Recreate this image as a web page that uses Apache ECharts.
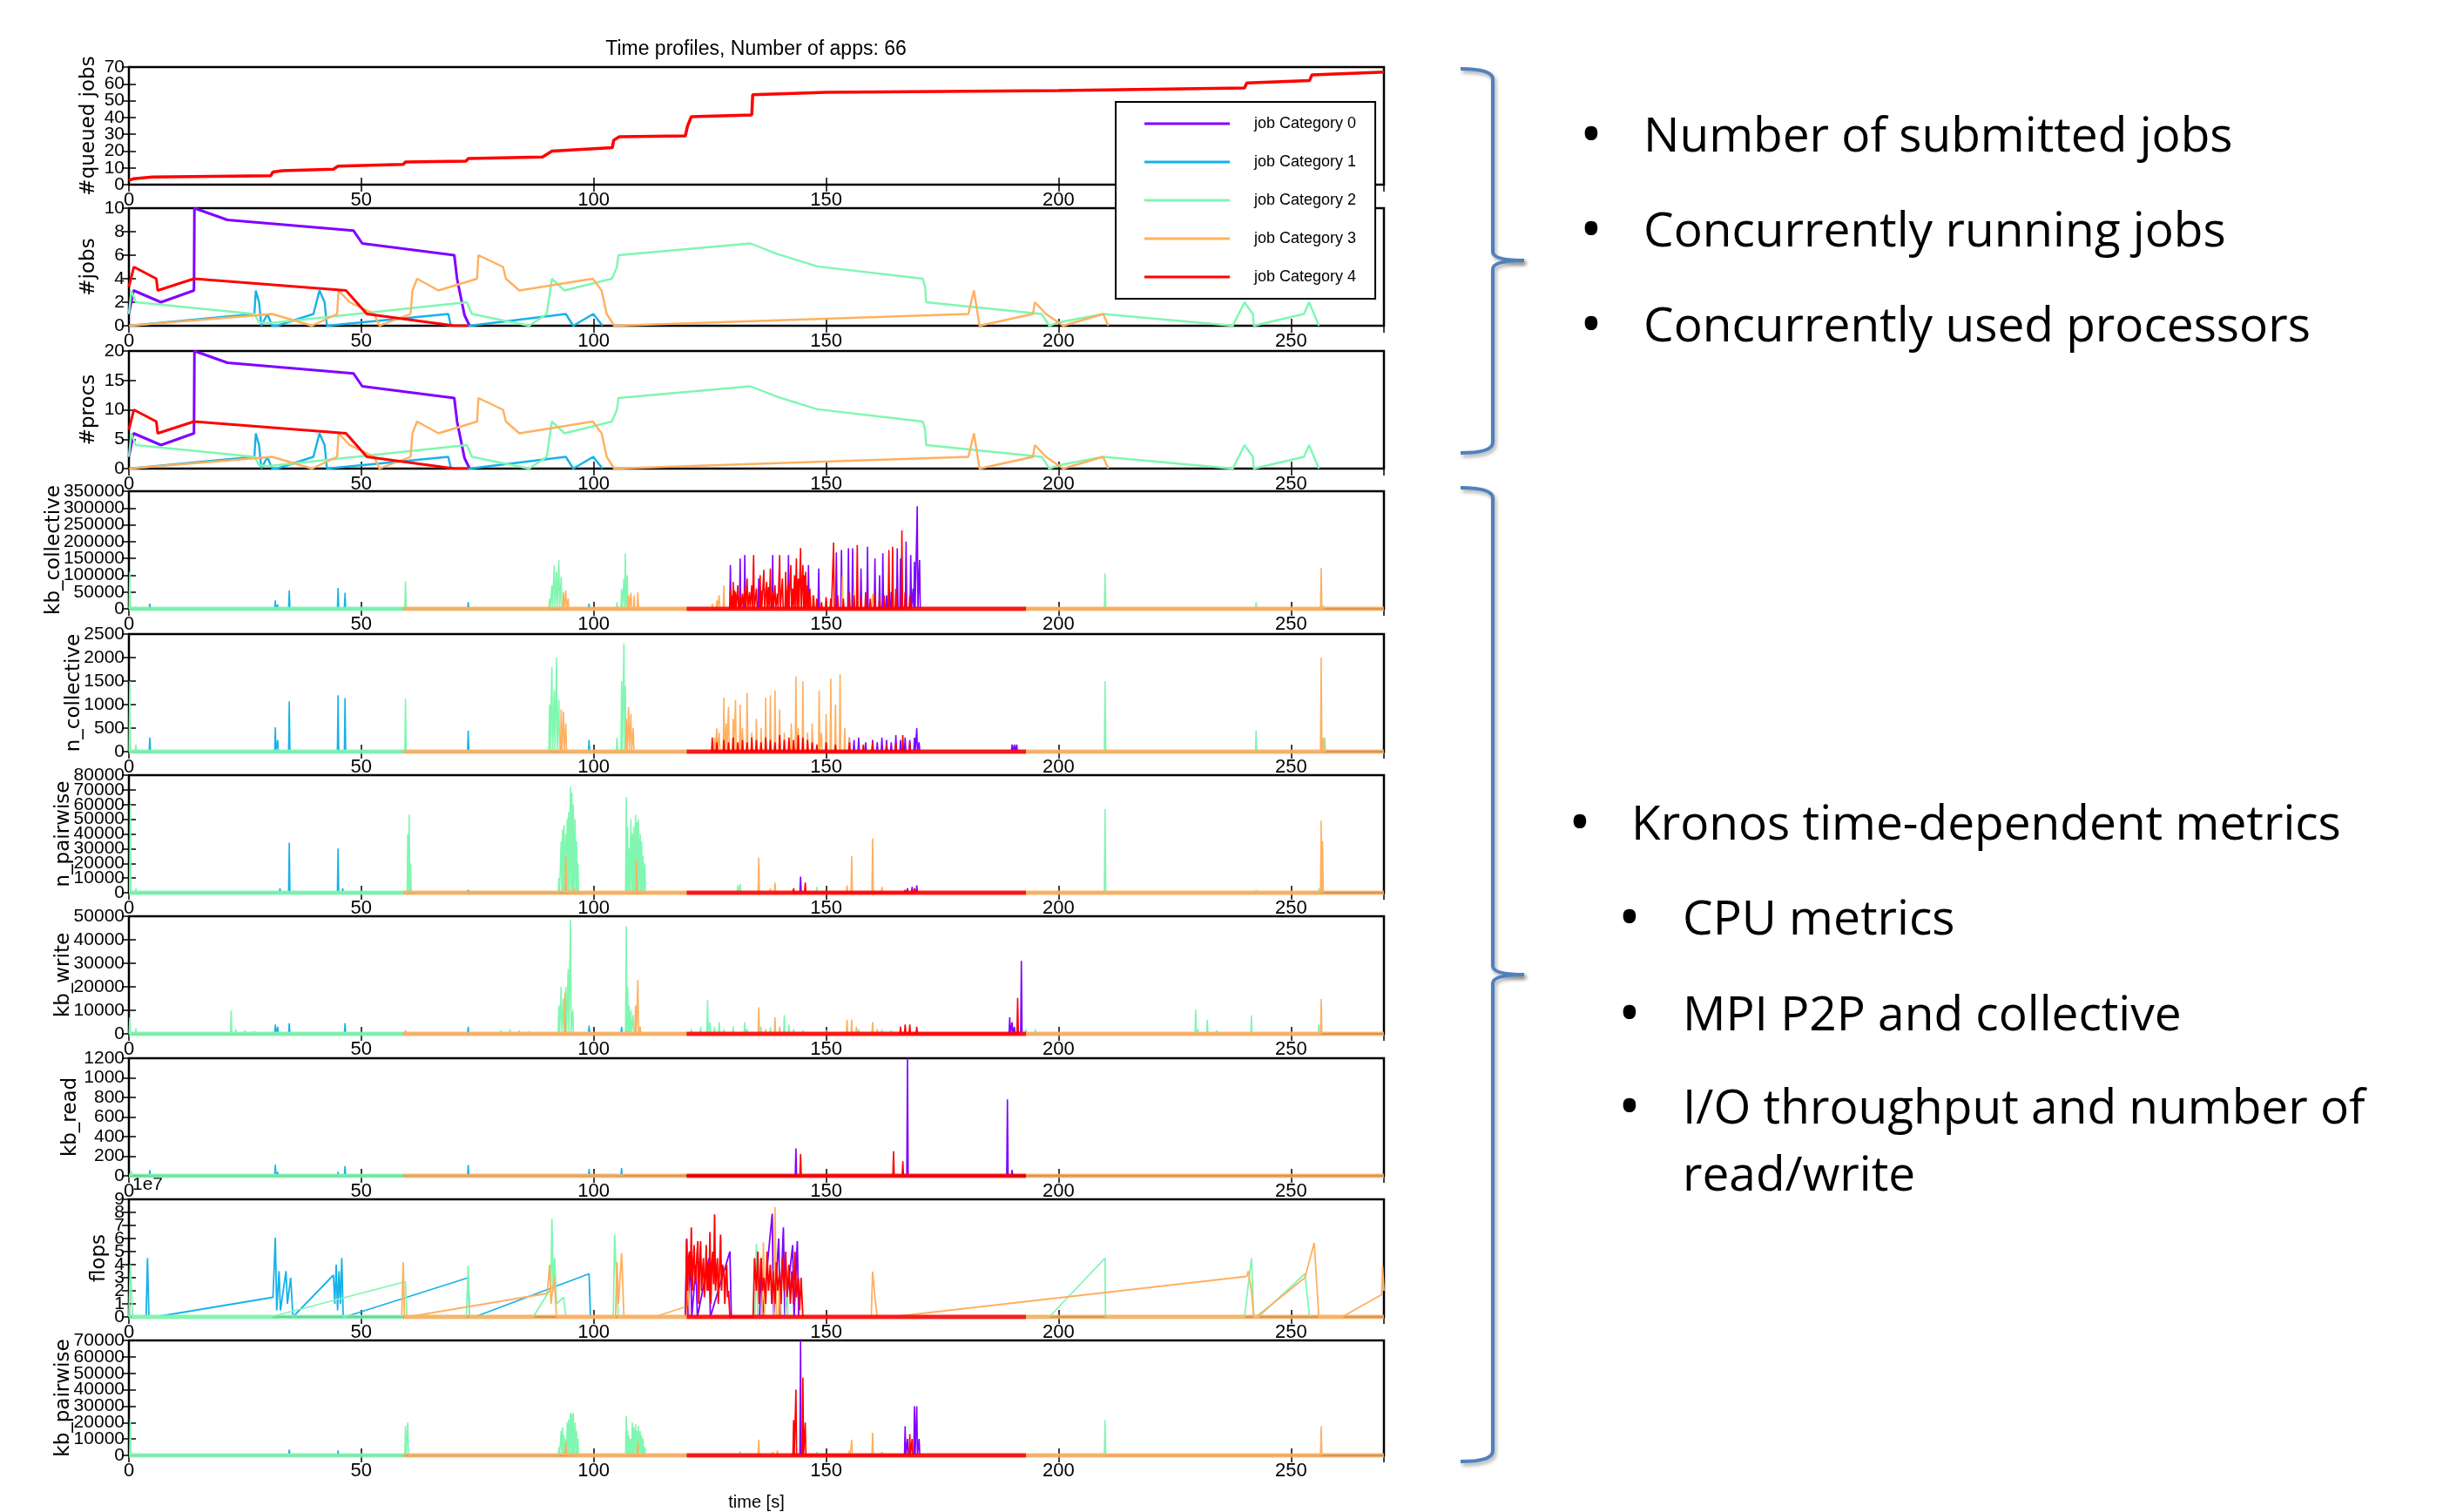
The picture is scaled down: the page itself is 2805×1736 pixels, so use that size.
<!DOCTYPE html>
<html>
<head>
<meta charset="utf-8">
<script src="https://cdn.jsdelivr.net/npm/echarts@6/dist/echarts.min.js"></script>
<style>
  html, body { margin: 0; padding: 0; background: #fff; }
  #main { width: 2805px; height: 1736px; }
</style>
</head>
<body>
<div id="main"></div>
<script>
// ---- data ----
const categories = ['job Category 0', 'job Category 1', 'job Category 2', 'job Category 3', 'job Category 4'];
const catColors = ['#8000ff', '#16b2ea', '#7ff7b0', '#ffb060', '#ff0000'];

const panelNames = ['#queued jobs', '#jobs', '#procs', 'kb_collective', 'n_collective', 'n_pairwise', 'kb_write', 'kb_read', 'flops', 'kb_pairwise'];
const panelMax = [70, 10, 20, 350000, 2500, 80000, 50000, 1200, 9, 70000];
const panelStep = [10, 2, 5, 50000, 500, 10000, 10000, 200, 1, 10000];
const xMax = 270, xStep = 50;

// time [s], number of queued jobs
const queuedJobs = [[0,2.5],[1,3.5],[5,4.5],[30.5,5.3],[31,7.5],[33,8.3],[44,9.2],[45,11],[59,12],[59.5,13.5],[72.5,14],[73,15.5],[89,16.5],[91,20],[104,22],[104.3,26.5],[105.5,28.5],[119.7,29],[120.2,35],[121,40.5],[134,41.5],[134.2,53.5],[150,55],[200,56],[240,57.5],[240.5,60.5],[254,62],[254.5,65.3],[270,67]];

// running jobs per category
const jobs = [
  [[0,1],[1,3],[6.9,2],[14,3],[14.1,10],[21.2,9],[48.3,8.1],[50.2,7],[70,6],[70.6,4],[72.2,0.9],[73.3,0]],
  [[0,0],[27,1],[27.3,3],[28,2],[28.5,0],[29.8,1],[30.8,0],[31.9,0],[39.7,1],[41,3],[42.1,2],[42.6,0],[68.7,1],[69.3,0],[73.3,0],[94,1],[95.6,0],[99.9,1],[101.9,0]],
  [[0,1],[0.5,3],[1.5,2],[27,1],[28,0.3],[29.8,0.2],[72.7,2],[73.8,1],[86.1,0],[89.9,1],[91,4],[93.7,3],[103.9,4],[105,5],[105.3,6],[133.7,7],[139.5,6.1],[148.1,5.05],[170.8,4],[171.3,3.3],[171.5,2],[196.4,1],[198,0],[200.2,0.3],[209.6,1],[237.5,0],[240,2],[241.8,1],[242,0],[252.8,1],[253.9,2],[256,0]],
  [[0,0],[30.8,1],[39.4,0],[44.8,1],[45.1,3],[47.5,2],[52.8,1],[53.9,0],[60.6,1],[61,3],[62,4],[66.6,3],[74.9,4],[75.2,6],[80.5,5],[81.1,4],[84,3],[99.8,4],[101.7,3],[102.8,1],[104.4,0],[180.6,1],[181.8,3],[183,0],[194.5,1],[194.9,2],[197.3,1],[201,0],[209.6,1],[210.7,0]],
  [[0,3.3],[1.07,5],[5.9,4],[6.2,3],[14,4],[46.7,3],[51.2,1],[70,0],[73,0]]
];

// used processors per category
const procs = [
  [[0,2],[1,6],[6.9,4],[14,6],[14.1,20],[21.2,18],[48.3,16.2],[50.2,14],[70,12],[70.6,8],[72.2,1.8],[73.3,0]],
  [[0,0],[27,2],[27.3,6],[28,4],[28.5,0],[29.8,2],[30.8,0],[31.9,0],[39.7,2],[41,6],[42.1,4],[42.6,0],[68.7,2],[69.3,0],[73.3,0],[94,2],[95.6,0],[99.9,2],[101.9,0]],
  [[0,2],[0.5,6],[1.5,4],[27,2],[28,0.6],[29.8,0.4],[72.7,4],[73.8,2],[86.1,0],[89.9,2],[91,8],[93.7,6],[103.9,8],[105,10],[105.3,12],[133.7,14],[139.5,12.2],[148.1,10.1],[170.8,8],[171.3,6.6],[171.5,4],[196.4,2],[198,0],[200.2,0.6],[209.6,2],[237.5,0],[240,4],[241.8,2],[242,0],[252.8,2],[253.9,4],[256,0]],
  [[0,0],[30.8,2],[39.4,0],[44.8,2],[45.1,6],[47.5,4],[52.8,2],[53.9,0],[60.6,2],[61,6],[62,8],[66.6,6],[74.9,8],[75.2,12],[80.5,10],[81.1,8],[84,6],[99.8,8],[101.7,6],[102.8,2],[104.4,0],[180.6,2],[181.8,6],[183,0],[194.5,2],[194.9,4],[197.3,2],[201,0],[209.6,2],[210.7,0]],
  [[0,6.6],[1.07,10],[5.9,8],[6.2,6],[14,8],[46.7,6],[51.2,2],[70,0],[73,0]]
];

// metric bursts: [time, peak value] per category
const kbCollective = [
  [[129.4,130000],[131.5,150000],[132.5,160000],[135.5,90000],[138.5,160000],[141.9,160000],[146.2,130000],[148.4,120000],[152.2,168000],[153.3,175000],[154.8,180000],[155.7,180000],[157.5,120000],[158.9,185000],[160.5,150000],[161.5,100000],[162.2,165000],[163,40000],[164,50000],[165.3,180000],[166,150000],[167.2,200000],[168.2,160000],[168.7,60000],[169,140000],[169.6,305000],[170.1,145000]],
  [[4.5,15000],[31.5,25000],[32,12000],[34.5,55000],[45,62000],[46.5,48000],[73,20000],[99,15000]],
  [[0.2,110000],[1.5,8000],[59.5,82000],[90.5,30000],[91,70000],[91.5,130000],[92,110000],[92.5,145000],[93,95000],[105,20000],[106,60000],[106.5,90000],[106.8,165000],[107.2,100000],[210,105000],[242.5,20000],[257,10000]],
  [[93.5,50000],[94,55000],[94.5,30000],[107.5,40000],[108,48000],[108.7,40000],[109.5,50000],[125.5,15000],[126.5,25000],[127,40000],[128,70000],[133,40000],[137,60000],[144,50000],[147,40000],[150,30000],[153.5,100000],[156,60000],[160,45000],[256.5,122000]],
  [[129.5,60000],[129.8,40000],[130,80000],[130.3,55000],[130.5,50000],[131,70000],[131.5,40000],[132,45000],[132.5,60000],[133,90000],[133.5,50000],[134,70000],[134.4,160000],[135,60000],[135.8,100000],[136,55000],[136.6,116000],[137.2,80000],[137.6,65000],[138,120000],[138.5,50000],[139,70000],[139.5,45000],[140,160000],[140.6,90000],[141.3,110000],[141.8,75000],[142.4,130000],[142.8,60000],[143.2,100000],[143.6,150000],[144,90000],[144.5,181000],[145,130000],[145.3,100000],[145.6,110000],[146,70000],[146.5,60000],[147.3,40000],[148,30000],[149,20000],[150,35000],[151,30000],[151.6,197000],[152.5,40000],[153.7,30000],[155,50000],[156,40000],[156.7,190000],[157.5,35000],[158.5,50000],[159.5,30000],[160.5,45000],[161.5,35000],[162.5,40000],[163.5,175000],[164.3,185000],[165,60000],[166.3,233000],[167,50000],[168,40000]]
];

const nCollective = [
  [[155,300],[156,250],[157,300],[158.5,200],[160,250],[161,200],[162,300],[163,250],[164,200],[165,350],[166,250],[167,300],[168,250],[169,300],[169.5,500],[170,200],[190,150],[190.5,150],[191,150]],
  [[4.5,300],[31.5,520],[32,250],[34.5,1070],[45,1200],[46.5,1140],[73,450],[99,250]],
  [[0.2,1500],[1.5,150],[59.5,1130],[90.5,1000],[91,1800],[91.5,1300],[92,2000],[92.5,1100],[105,300],[106,1500],[106.5,2300],[106.8,1400],[210,1500],[242.5,450],[257.3,300]],
  [[93,900],[93.5,850],[94,600],[107,700],[107.5,950],[108,800],[108.5,500],[126,300],[126.5,500],[127,400],[128,1150],[128.5,600],[129,950],[130,700],[130.5,1100],[131.5,1000],[132,500],[133,1250],[134,400],[135,700],[136,500],[137,1150],[138,1200],[139,1300],[140,900],[141,400],[142.5,600],[143.5,1600],[144,500],[145,1500],[146,400],[147,600],[148.5,1300],[149,400],[150,800],[151,1550],[152,1000],[153,1650],[154,500],[155,300],[256.5,2000],[257,300]],
  [[125.5,300],[126.5,200],[128,250],[129,200],[130,300],[131,200],[132,250],[133,200],[134,300],[135,250],[136,200],[137,300],[138,250],[139,200],[140,350],[141,250],[142,300],[143,250],[144,350],[145,300],[146,250],[147,200],[148,150],[150,200],[152,150],[155,200],[158,150],[160,200],[163,150],[165,200],[166.5,350],[168,200]]
];

const nPairwise = [
  [[144.5,11000],[167.5,3000],[168.5,4000],[169.5,5000]],
  [[32.5,3000],[34.5,34000],[45,30000],[46,3000],[73,2000]],
  [[0.3,60000],[1.5,3000],[60,40000],[60.3,53000],[60.6,20000],[92.5,10000],[93,35000],[93.3,43000],[93.6,46000],[94,40000],[94.3,50000],[94.6,55000],[95,72000],[95.3,68000],[95.6,60000],[96,50000],[96.3,35000],[96.6,20000],[107,65000],[107.3,45000],[107.6,30000],[108,50000],[108.3,40000],[108.6,45000],[109,53000],[109.3,48000],[109.6,50000],[110,40000],[110.3,35000],[110.6,25000],[111,20000],[131,5000],[131.5,6000],[148,4000],[210,57000],[242.5,2000],[256,3000]],
  [[94,25000],[95.8,3000],[109.2,22000],[135.5,24000],[138,3000],[139,7000],[154.5,5000],[155.5,25000],[160,37000],[162,4000],[256.5,49000],[256.8,35000]],
  [[143,3000],[145.5,7000],[167,2000],[169,3000]]
];

const kbWrite = [
  [[189.5,7000],[190,5000],[190.5,3000],[192,31000]],
  [[31.5,4000],[32,3000],[34.5,4500],[46.5,4500],[73,3000],[99,3500],[106,3000]],
  [[0.2,7000],[1.5,2500],[22,10000],[23,2000],[25,1500],[27,1200],[80,1500],[82,2000],[84,1500],[86,1000],[92.5,12000],[93,20000],[93.5,15000],[94,20000],[94.5,27600],[95,48600],[95.5,10000],[107,45800],[107.3,20000],[107.6,12000],[108,10000],[108.5,8000],[121,2000],[123,3000],[124.5,14400],[125,5000],[126,3000],[127,5000],[128,2000],[130,3000],[132.5,5000],[133,2000],[136,3000],[138,3000],[141,8000],[142,4000],[143,2000],[145,1500],[150,1500],[157,2000],[160,1500],[162,2000],[164,1500],[193,2000],[195,2000],[229.5,10300],[230,2000],[232,6000],[234,1500],[241.5,7900],[256,4000]],
  [[59.5,1500],[93.8,17500],[109,12000],[109.5,23000],[110,3000],[135.5,11300],[137,2000],[139,7000],[140,3000],[154.5,6000],[155.5,6000],[156.5,3000],[160,5000],[161,2000],[256.5,14800]],
  [[166,3000],[167,4000],[168,4000],[169.5,3000],[191.2,15300]]
];

const kbRead = [
  [[143.5,280],[167.5,1200],[189,780],[190,60]],
  [[4.5,60],[31.5,112],[32,40],[45,40],[46.5,100],[73,110],[99,70],[106,80]],
  [[0.5,50]],
  [],
  [[144.5,222],[164.5,251],[166.5,148]]
];

// flops in units of 1e7
const flopsE7 = [
  [[119.7,0],[120,6],[120.3,0],[120.8,5],[121.1,0],[122,4],[122.3,0],[124.8,4.5],[125.1,0],[129.3,5],[129.6,0],[135.7,0],[136,4.5],[136.3,0],[138.4,7.9],[138.7,0],[139.8,6],[140.1,0],[140.8,6.85],[141.1,0],[142.8,5.5],[143.1,0],[143.8,5.8],[144.1,0]],
  [[3.7,0],[4,4.5],[4.3,0],[5.7,0],[31,1.5],[31.5,6.07],[31.8,0.5],[32.3,3.5],[32.6,0.5],[33.8,3.5],[34.1,1],[34.8,3],[35.3,0],[44,3.2],[44.3,1],[44.6,4],[44.9,0.5],[45.2,3.5],[45.5,1],[45.8,4.5],[46.1,0],[46.5,0],[73,3],[73.3,0],[74.4,0],[99,3.3],[99.3,0],[100,0]],
  [[0,0],[0.3,4],[0.8,0],[30.5,0],[59.5,2.7],[59.8,0],[72.6,0],[73,3.9],[73.3,0],[87,0],[90.8,2.2],[91,7.5],[91.3,2],[91.6,4.5],[92,1],[93.5,1.5],[94,0],[104.2,0],[104.5,6.3],[105,2],[105.3,0],[134.7,0],[135,5.6],[135.3,0],[141.2,0],[141.5,3],[141.8,0],[198,0],[210,4.5],[210.1,0],[240,0],[241.5,4.5],[242,0],[243,0],[253,3.3],[254,0]],
  [[58.7,0],[59,4.2],[59.3,0],[60,0],[90,1.8],[90.5,4],[90.8,1],[91.5,3],[92,0],[104.7,0],[105,4.2],[105.3,1],[106,4.9],[106.5,0],[113,0],[120,0.8],[120.3,3],[120.6,0],[136.2,0],[136.5,5.7],[136.8,0],[138.7,0],[139,8.4],[139.3,0],[139.7,0],[140,3],[140.3,0],[159.7,0],[160,3.46],[160.5,1.5],[161,0],[164,0],[240.5,3.1],[240.8,3.5],[241.5,2],[242,0],[242.5,0],[253,3],[255,5.67],[256,0],[261,0],[269.5,1.7],[269.7,3.9],[270,2]],
  [[119.8,0],[120,5.9],[120.2,2],[120.4,4.5],[120.6,5],[120.8,3],[121,6.85],[121.2,2],[121.4,4],[121.6,5.5],[121.8,2.5],[122,3],[122.2,4.8],[122.4,5.8],[122.6,1],[122.8,4],[123,5.8],[123.2,2],[123.4,3.5],[123.6,4.5],[123.8,1.5],[124,3],[124.2,5.5],[124.4,2],[124.6,4],[124.8,2],[125,6.5],[125.2,1],[125.4,4],[125.6,5],[125.8,2.5],[126,7.85],[126.2,2],[126.4,3.5],[126.6,4.5],[126.8,1],[127,3],[127.3,6.3],[127.5,2],[127.7,4],[128,3.5],[128.2,1],[128.4,3],[128.6,4],[128.8,1.5],[129,2],[129.3,0],[134.3,0],[134.6,4.5],[135,2],[135.3,5],[135.6,1],[136,4.5],[136.3,2],[136.6,3],[137,1],[137.3,5],[137.6,2],[138,4],[138.3,1],[138.6,3.5],[139,1],[139.3,4.2],[139.6,2],[140,3.5],[140.3,1],[140.6,4.5],[141,2],[141.3,5],[141.6,1.5],[142,4],[142.3,1],[142.6,3.5],[143,1],[143.3,5],[143.6,1.5],[144,3],[144.3,0.5],[144.6,3],[145,0]]
];

const kbPairwise = [
  [[144.5,70000],[167,17700],[167.5,10000],[169,30000],[169.5,30000],[170,10000]],
  [[34.5,3500],[45,3000]],
  [[0.3,22000],[59.5,18000],[60,20000],[92.5,5000],[93,15000],[93.3,17000],[93.6,12000],[94,10000],[94.3,20000],[94.6,22000],[95,26000],[95.3,25000],[95.6,26000],[96,20000],[96.3,15000],[96.6,10000],[107,24000],[107.3,15000],[107.6,12000],[108,10000],[108.3,20000],[108.6,17000],[109,19000],[109.3,15000],[109.6,18000],[110,15000],[110.3,12000],[110.6,10000],[111,5000],[131.5,2500],[148,2000],[210,21500]],
  [[94,8000],[109.5,8000],[135.5,9500],[138.5,2000],[139.5,3000],[155,3000],[155.5,9500],[160,13800],[162,2000],[256.5,17700]],
  [[143,21500],[143.5,40000],[145,47300],[145.5,20000],[168,13000],[168.5,10000]]
];

// idle stretches at zero: [category, from, to]
const baseSegs = [[2,0,59],[3,59,120],[4,120,193],[3,193,270]];

// ---- layout ----
const NARROW = "'Liberation Sans Narrow', 'Liberation Sans', Arial, sans-serif";
const DEJAVU = "'DejaVu Sans', sans-serif";
const SLIDE = "'Open Sans', 'Noto Sans', sans-serif";
const plotLeft = 148, plotWidth = 1441, panelH = 135;
const panelTop = [77, 239, 403, 564, 728, 890, 1052, 1215, 1377, 1539];
const nameGaps = [34, 34, 34, 74, 51, 63, 63, 55, 22, 63];
const Y_PER_PANEL = 3;

// turn each burst into a thin spike from zero
function spikes(list) {
  const w = 0.15, out = [];
  list.slice().sort((a, b) => a[0] - b[0]).forEach(([t, h]) => {
    out.push([t - w, 0], [t, h], [t + w, 0]);
  });
  return out;
}

const tickStyle = { inside: true, length: 8, lineStyle: { color: '#000', width: 1.5 } };
const grids = [], xAxes = [], yAxes = [], series = [];
panelNames.forEach((nm, i) => {
  grids.push({ left: plotLeft, width: plotWidth, top: panelTop[i], height: panelH,
    show: true, borderColor: '#000', borderWidth: 2.5, backgroundColor: 'transparent' });
  const last = i === panelNames.length - 1;
  xAxes.push({
    gridIndex: i, type: 'value', min: 0, max: xMax, interval: xStep,
    axisLine: { show: false }, splitLine: { show: false }, axisTick: tickStyle,
    axisLabel: { fontSize: 22, color: '#000', fontFamily: NARROW, margin: 7,
      showMinLabel: true, showMaxLabel: false, hideOverlap: false },
    name: last ? 'time [s]' : '', nameLocation: 'middle', nameGap: 44, nameMoveOverlap: false,
    nameTextStyle: { fontSize: 20, color: '#000', fontFamily: NARROW }
  });
  xAxes.push({
    gridIndex: i, type: 'value', position: 'top', min: 0, max: xMax, interval: xStep,
    axisLine: { show: false }, splitLine: { show: false }, axisLabel: { show: false }, axisTick: tickStyle
  });
  const step = panelStep[i];
  const yLabel = (parity) => ({ fontSize: 21, color: '#000', fontFamily: NARROW, margin: 5,
    showMinLabel: true, showMaxLabel: true, hideOverlap: false,
    formatter: v => (Math.round(v / step) % 2 === parity ? String(v) : '') });
  // even tick labels, axis name, ticks
  yAxes.push({
    gridIndex: i, type: 'value', min: 0, max: panelMax[i], interval: step,
    axisLine: { show: false }, splitLine: { show: false }, axisTick: tickStyle,
    axisLabel: yLabel(0),
    name: nm, nameLocation: 'middle', nameRotate: 90, nameGap: nameGaps[i], nameMoveOverlap: false,
    nameTextStyle: { fontSize: 23, color: '#000', fontFamily: DEJAVU }
  });
  yAxes.push({
    gridIndex: i, type: 'value', position: 'right', min: 0, max: panelMax[i], interval: step,
    axisLine: { show: false }, splitLine: { show: false }, axisLabel: { show: false }, axisTick: tickStyle
  });
  // odd tick labels (separate so crowded labels all stay visible, as in the original)
  yAxes.push({
    gridIndex: i, type: 'value', position: 'left', min: 0, max: panelMax[i], interval: step,
    axisLine: { show: false }, splitLine: { show: false }, axisTick: { show: false },
    axisLabel: yLabel(1)
  });
});

function addLine(panel, name, color, data, width, opacity) {
  series.push({
    type: 'line', name: name, xAxisIndex: panel * 2, yAxisIndex: panel * Y_PER_PANEL,
    data: data, showSymbol: false, symbol: 'none', silent: true,
    itemStyle: { color: color },
    lineStyle: { color: color, width: width, opacity: opacity == null ? 1 : opacity }
  });
}

addLine(0, 'queued', '#ff0000', queuedJobs, 3.5);
[jobs, procs].forEach((set, k) => {
  set.forEach((d, c) => addLine(k + 1, categories[c], catColors[c], d, (c === 0 || c === 4) ? 3 : 2.4));
});

const metricSets = [[3, kbCollective], [4, nCollective], [5, nPairwise], [6, kbWrite], [7, kbRead], [9, kbPairwise]];
metricSets.forEach(([p, set]) => {
  set.forEach((d, c) => addLine(p, categories[c], catColors[c], spikes(d), 1.6));
});
flopsE7.forEach((d, c) => addLine(8, categories[c], catColors[c], d, 1.8));

[3, 4, 5, 6, 7, 8, 9].forEach(p => {
  baseSegs.forEach(([c, a, b]) => {
    series.push({
      type: 'line', name: 'idle', xAxisIndex: p * 2, yAxisIndex: p * Y_PER_PANEL, clip: false,
      data: [[a, 0], [b, 0]], symbol: 'none', silent: true,
      lineStyle: { color: catColors[c], width: 5, opacity: 0.85 }
    });
  });
});

// ---- slide decorations ----
const braceStyle = { stroke: '#4f81bd', lineWidth: 4, fill: null,
  shadowColor: 'rgba(0,0,0,0.35)', shadowBlur: 4, shadowOffsetX: 2, shadowOffsetY: 3 };
function curve(x1, y1, cx, cy, x2, y2) {
  return { type: 'bezierCurve', silent: true, style: braceStyle,
    shape: { x1: x1, y1: y1, cpx1: cx, cpy1: cy, x2: x2, y2: y2 } };
}
function vline(x, y1, y2) {
  return { type: 'line', silent: true, style: braceStyle, shape: { x1: x, y1: y1, x2: x, y2: y2 } };
}
function brace(top, mid, bot) {
  return [
    curve(1677, top, 1714, top, 1714, top + 12),
    vline(1714, top + 12, mid - 10),
    curve(1714, mid - 10, 1714, mid, 1750, mid),
    curve(1750, mid, 1714, mid, 1714, mid + 10),
    vline(1714, mid + 10, bot - 12),
    curve(1714, bot - 12, 1714, bot, 1677, bot)
  ];
}
function txt(x, y, s, align, size) {
  return { type: 'text', silent: true, style: { x: x, y: y, text: s, fill: '#000',
    font: (size || 55) + 'px ' + SLIDE, textAlign: align || 'left', textVerticalAlign: 'middle' } };
}
const bulletText = [
  [1827, 1887, 158, 'Number of submitted jobs'],
  [1827, 1887, 267, 'Concurrently running jobs'],
  [1827, 1887, 376, 'Concurrently used processors'],
  [1814, 1873, 948, 'Kronos time-dependent metrics'],
  [1871, 1932, 1057, 'CPU metrics'],
  [1871, 1932, 1167, 'MPI P2P and collective'],
  [1871, 1932, 1274, 'I/O throughput and number of']
];
const graphics = [].concat(brace(79, 299, 520), brace(560, 1119, 1678));
bulletText.forEach(([bx, tx, y, s]) => { graphics.push(txt(bx, y, '\u2022', 'center', 70), txt(tx, y, s)); });
graphics.push(txt(1932, 1351, 'read/write'));
graphics.push({ type: 'text', silent: true, style: { x: 152, y: 1360, text: '1e7', fill: '#000',
  font: '21px ' + NARROW, textVerticalAlign: 'middle' } });

const chart = echarts.init(document.getElementById('main'));
chart.setOption({
  animation: false,
  backgroundColor: '#fff',
  title: { text: 'Time profiles, Number of apps: 66', left: 868, top: 45, padding: 0, textAlign: 'center',
    textStyle: { fontSize: 23, fontWeight: 'normal', color: '#000', fontFamily: NARROW } },
  legend: {
    data: categories, orient: 'vertical', left: 1281, top: 117, selectedMode: false,
    padding: [16, 22, 16, 33], itemGap: 26, itemWidth: 98, itemHeight: 3, icon: 'rect',
    backgroundColor: '#fff', borderColor: '#000', borderWidth: 2,
    textStyle: { fontSize: 18, color: '#000', fontFamily: NARROW, padding: [0, 0, 0, 23] }
  },
  grid: grids, xAxis: xAxes, yAxis: yAxes, series: series, graphic: graphics
});
</script>
</body>
</html>
